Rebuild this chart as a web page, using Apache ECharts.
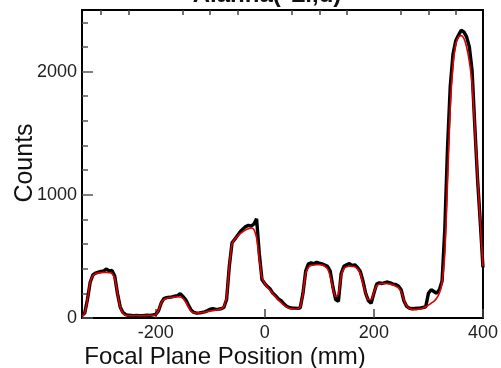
<!DOCTYPE html>
<html>
<head>
<meta charset="utf-8">
<script src="https://cdn.jsdelivr.net/npm/echarts@6/dist/echarts.min.js"></script>
<style>
  html, body { margin: 0; padding: 0; background: #fff; }
  #chart { width: 501px; height: 368px; }
</style>
</head>
<body>
<div id="chart"></div>
<script>
// Focal-plane position of each histogram bin (mm)
const positions = [
  -335, -330, -325, -320, -315, -310, -305, -300, -295, -290,
  -285, -280, -275, -270, -265, -260, -255, -250, -245, -240,
  -235, -230, -225, -220, -215, -210, -205, -200, -195, -190,
  -185, -180, -175, -170, -165, -160, -155, -150, -145, -140,
  -135, -130, -125, -120, -115, -110, -105, -100, -95, -90,
  -85, -80, -75, -70, -65, -60, -55, -50, -45, -40,
  -35, -30, -25, -20, -15, -10, -5, 0, 5, 10,
  15, 20, 25, 30, 35, 40, 45, 50, 55, 60,
  65, 70, 75, 80, 85, 90, 95, 100, 105, 110,
  115, 120, 125, 130, 135, 140, 145, 150, 155, 160,
  165, 170, 175, 180, 185, 190, 195, 200, 205, 210,
  215, 220, 225, 230, 235, 240, 245, 250, 255, 260,
  265, 270, 275, 280, 285, 290, 295, 300, 305, 310,
  315, 320, 325, 330, 335, 340, 345, 350, 355, 360,
  365, 370, 375, 380, 385, 390, 395, 400
];

// Measured counts per bin
const counts = [
  20, 40, 150, 290, 350, 365, 372, 378, 382, 398,
  380, 386, 340, 200, 90, 45, 28, 22, 20, 18,
  20, 19, 18, 20, 22, 21, 25, 30, 55, 120,
  158, 165, 168, 172, 178, 182, 198, 175, 150, 105,
  65, 45, 40, 42, 45, 50, 60, 72, 75, 70,
  72, 75, 85, 150, 420, 610, 640, 670, 700, 722,
  742, 752, 745, 762, 805, 520, 310, 280, 255, 235,
  200, 180, 155, 140, 115, 95, 85, 80, 80, 78,
  82, 200, 380, 440, 448, 440, 452, 445, 440, 430,
  420, 380, 250, 150, 135, 360, 420, 432, 442, 425,
  432, 410, 380, 300, 200, 140, 120, 200, 275, 285,
  280, 287, 292, 285, 275, 272, 260, 230, 140, 95,
  80, 75, 78, 80, 80, 85, 90, 200, 230, 215,
  200, 230, 300, 720, 1380, 1880, 2140, 2250, 2295, 2335,
  2322, 2282, 2200, 2010, 1560, 1130, 780, 410
];

// Fitted line-shape curve
const fit = [
  15, 40, 150, 290, 345, 360, 365, 368, 370, 370,
  368, 360, 320, 200, 90, 40, 22, 18, 18, 18,
  18, 18, 18, 19, 19, 20, 22, 28, 60, 120,
  150, 160, 165, 168, 170, 172, 170, 160, 130, 90,
  55, 42, 40, 42, 45, 48, 52, 56, 60, 64,
  68, 75, 95, 170, 420, 600, 640, 665, 685, 700,
  715, 725, 730, 720, 650, 480, 330, 280, 250, 225,
  195, 170, 145, 125, 105, 90, 80, 75, 73, 75,
  90, 200, 360, 410, 425, 430, 432, 432, 430, 420,
  400, 340, 240, 175, 195, 340, 400, 415, 420, 420,
  415, 400, 360, 280, 200, 150, 150, 210, 260, 275,
  280, 280, 278, 275, 268, 258, 245, 215, 150, 100,
  78, 70, 68, 70, 75, 82, 92, 105, 120, 135,
  160, 200, 290, 520, 1100, 1700, 2050, 2220, 2280, 2292,
  2270, 2200, 2080, 1900, 1550, 1150, 780, 420
];

// Axis tick positions
const xMajorTicks = [-200, 0, 200, 400];
const xMinorTicks = [-300, -250, -150, -100, -50, 50, 100, 150, 250, 300, 350];
const yMajorTicks = [0, 1000, 2000];
const yMinorTicks = [200, 400, 600, 800, 1200, 1400, 1600, 1800, 2200, 2400];

const FONT = '"Liberation Sans", Arial, sans-serif';

const pairs = (xs, ys) => xs.map((x, i) => [x, ys[i]]);
const plain = (v) => String(v);

const chart = echarts.init(document.getElementById('chart'), null, { renderer: 'canvas' });

const xBase = {
  type: 'value', min: -335, max: 400,
  splitLine: { show: false },
  axisLine: { show: true, onZero: false, lineStyle: { color: '#000', width: 2 } }
};
const yBase = {
  type: 'value', min: 0, max: 2500,
  splitLine: { show: false },
  axisLine: { show: true, onZero: false, lineStyle: { color: '#000', width: 2 } }
};

chart.setOption({
  animation: false,
  backgroundColor: '#fff',
  grid: {
    left: 82, right: 13, top: 10, bottom: 50,
    show: true, borderColor: '#000', borderWidth: 2, backgroundColor: 'transparent'
  },
  xAxis: [
    Object.assign({}, xBase, {
      axisTick: { show: true, inside: true, length: 9, customValues: xMajorTicks,
                  lineStyle: { color: '#444', width: 1.5 } },
      axisLabel: { show: true, customValues: xMajorTicks, margin: 6, formatter: plain,
                   fontFamily: FONT, fontSize: 18, color: '#222' }
    }),
    Object.assign({}, xBase, {
      axisTick: { show: true, inside: true, length: 5, customValues: xMinorTicks,
                  lineStyle: { color: '#444', width: 1.5 } },
      axisLabel: { show: false }
    })
  ],
  yAxis: [
    Object.assign({}, yBase, {
      axisTick: { show: true, inside: true, length: 11, customValues: yMajorTicks,
                  lineStyle: { color: '#555', width: 1.5 } },
      axisLabel: { show: true, customValues: yMajorTicks, margin: 5, formatter: plain,
                   fontFamily: FONT, fontSize: 18, color: '#222' }
    }),
    Object.assign({}, yBase, {
      position: 'left',
      axisTick: { show: true, inside: true, length: 6, customValues: yMinorTicks,
                  lineStyle: { color: '#555', width: 1.5 } },
      axisLabel: { show: false }
    })
  ],
  graphic: [
    {
      type: 'text', x: 267, y: -17,
      style: { text: 'Alanna(\u2077Li,d)', fontFamily: FONT, fontSize: 24,
               fontWeight: 'bold', fill: '#111', textAlign: 'center' }
    },
    {
      type: 'text', x: 225, y: 357,
      style: { text: 'Focal Plane Position (mm)', fontFamily: FONT, fontSize: 24,
               fill: '#111', textAlign: 'center', textVerticalAlign: 'middle' }
    },
    {
      type: 'text', x: 25, y: 163, rotation: Math.PI / 2,
      style: { text: 'Counts', fontFamily: FONT, fontSize: 25,
               fill: '#111', textAlign: 'center', textVerticalAlign: 'middle' }
    }
  ],
  series: [
    {
      name: 'counts', type: 'line', xAxisIndex: 0, yAxisIndex: 0,
      data: pairs(positions, counts), showSymbol: false,
      lineStyle: { color: '#000', width: 3.4 }, z: 2
    },
    {
      name: 'fit', type: 'line', xAxisIndex: 0, yAxisIndex: 0,
      data: pairs(positions, fit), smooth: 0.3, showSymbol: false,
      lineStyle: { color: '#e00000', width: 1.6 }, z: 3
    }
  ]
});
</script>
</body>
</html>
